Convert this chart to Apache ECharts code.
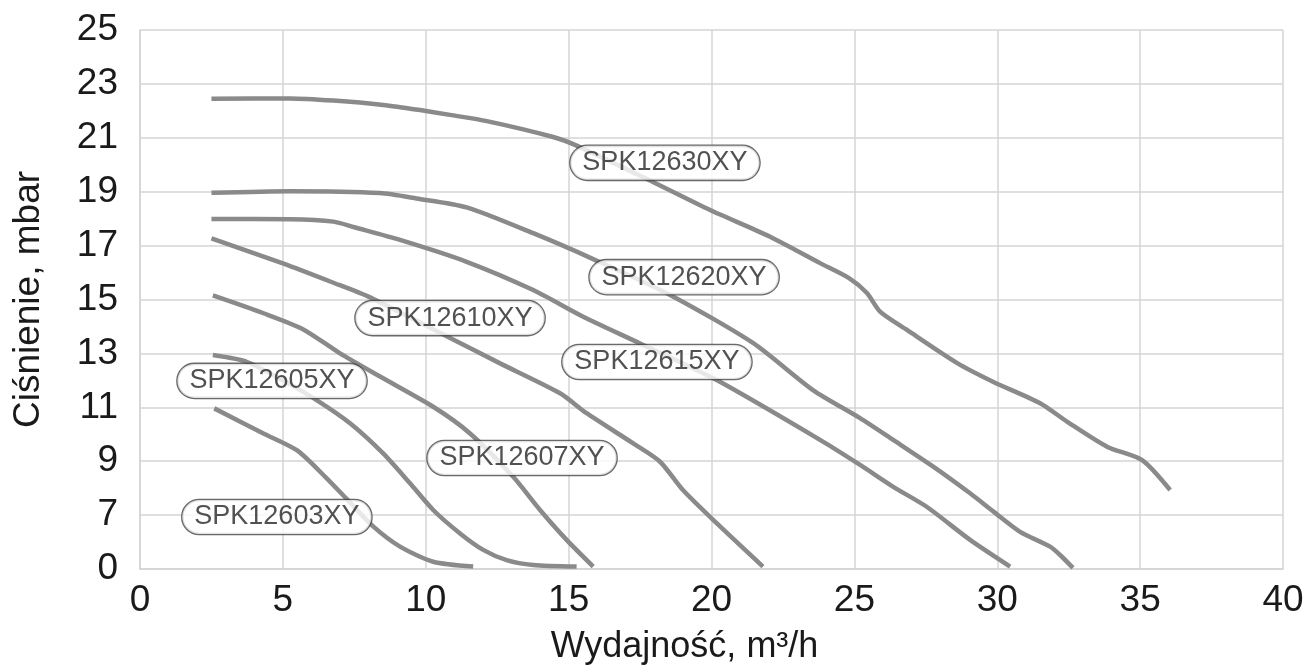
<!DOCTYPE html>
<html>
<head>
<meta charset="utf-8">
<script src="https://cdn.jsdelivr.net/npm/echarts@6/dist/echarts.min.js"></script>
<style>
html,body{margin:0;padding:0;background:#fff;}
#chart{width:1314px;height:666px;}
</style>
</head>
<body>
<div id="chart"></div>
<script>
// Y axis: plotted linearly from 5 to 25; the bottom tick (5) is labelled "0" as in the original
const xTicks = [0, 5, 10, 15, 20, 25, 30, 35, 40];
const yTickLabels = {5: '0', 7: '7', 9: '9', 11: '11', 13: '13', 15: '15', 17: '17', 19: '19', 21: '21', 23: '23', 25: '25'};

const spk12630 = [[2.5,22.45],[5.25,22.46],[6.77,22.38],[8.51,22.22],[9.8,22.03],[10.85,21.85],[12.14,21.62],[14.46,21.03],[15.3,20.7],[17.95,19.36],[19.95,18.32],[22.05,17.33],[23.8,16.35],[24.8,15.8],[25.44,15.24],[25.9,14.55],[26.84,13.87],[28.6,12.64],[29.85,11.95],[31.5,11.15],[32.44,10.47],[33.84,9.54],[35.07,9.04],[36.05,7.93]];
const spk12620 = [[2.5,18.96],[5.25,19.02],[8.4,18.95],[9.68,18.75],[11.43,18.42],[13.76,17.46],[15.86,16.5],[18.55,15.17],[21.45,13.39],[23.55,11.64],[25.2,10.6],[26.36,9.79],[27.76,8.8],[29.05,7.81],[29.87,7.13],[30.8,6.38],[31.85,5.83],[32.2,5.52],[32.65,5.04]];
const spk12615 = [[2.5,17.99],[5.25,17.98],[6.77,17.89],[7.5,17.68],[9.1,17.21],[11.43,16.4],[13.76,15.35],[15.51,14.36],[17.5,13.37],[20.18,12.01],[23.8,9.79],[25.2,8.86],[26.36,8.05],[27.53,7.31],[29.05,6.08],[30.45,5.09]];
const spk12610 = [[2.5,17.27],[5.0,16.34],[6.7,15.65],[8.05,15.08],[10.8,13.6],[12.6,12.63],[14.7,11.52],[15.63,10.78],[17.26,9.66],[18.2,8.98],[19.0,7.93],[20.18,6.7],[21.8,5.09]];
const spk12607 = [[2.55,15.15],[4.32,14.49],[5.7,13.9],[7.0,13.0],[8.4,12.14],[10.26,11.02],[11.55,10.03],[13.06,8.42],[14.0,7.19],[14.93,6.08],[15.86,5.09]];
const spk12605 = [[2.55,12.94],[3.73,12.69],[5.0,12.0],[6.18,11.27],[7.35,10.41],[8.51,9.29],[9.45,8.18],[10.26,7.19],[11.2,6.32],[12.01,5.71],[12.83,5.33],[13.76,5.15],[15.28,5.09]];
const spk12603 = [[2.6,10.96],[4.32,10.03],[5.5,9.4],[6.5,8.4],[7.23,7.6],[8.17,6.57],[9.1,5.83],[10.26,5.27],[11.66,5.09]];

const seriesNames = ['SPK12630XY','SPK12620XY','SPK12615XY','SPK12610XY','SPK12607XY','SPK12605XY','SPK12603XY'];
const seriesData = [spk12630, spk12620, spk12615, spk12610, spk12607, spk12605, spk12603];

// curve label positions (data coordinates)
const labelNames = ['SPK12630XY','SPK12620XY','SPK12610XY','SPK12615XY','SPK12605XY','SPK12607XY','SPK12603XY'];
const labelX = [18.37, 19.04, 10.85, 18.09, 4.62, 13.37, 4.79];
const labelY = [20.07, 15.83, 14.31, 12.68, 11.98, 9.12, 6.93];

const chart = echarts.init(document.getElementById('chart'), null, {renderer: 'canvas'});
const FONT = '"Liberation Sans", Arial, sans-serif';

const lineSeries = seriesNames.map((n, i) => ({
  name: n,
  type: 'line',
  data: seriesData[i],
  showSymbol: false,
  smooth: 0.25,
  lineStyle: {color: '#8a8a8a', width: 4.5, cap: 'butt'},
  z: 2,
  silent: true
}));

const labelSeries = {
  type: 'scatter',
  data: labelNames.map((n, i) => ({name: n, value: [labelX[i], labelY[i]]})),
  symbol: 'circle',
  symbolSize: 0,
  itemStyle: {color: 'rgba(0,0,0,0)'},
  z: 10,
  silent: true,
  label: {
    show: true,
    position: 'inside',
    formatter: p => p.name,
    fontFamily: FONT,
    fontSize: 27,
    color: '#262626',
    backgroundColor: '#fff',
    borderColor: '#444',
    borderWidth: 1.3,
    borderRadius: 18,
    padding: [4, 12, 3, 12]
  }
};

chart.setOption({
  animation: false,
  backgroundColor: '#fff',
  grid: {left: 140, right: 31, top: 30, bottom: 97, containLabel: false, outerBoundsMode: 'none'},
  xAxis: {
    type: 'value', min: 0, max: 40, interval: 5,
    name: 'Wydajność, m³/h',
    nameLocation: 'middle',
    nameGap: 60,
    nameTextStyle: {fontFamily: FONT, fontSize: 36, color: '#1a1a1a', padding: [0, 54, 0, 0]},
    axisLine: {show: true, lineStyle: {color: '#d4d4d4', width: 1.5}},
    axisTick: {show: false},
    axisLabel: {fontFamily: FONT, fontSize: 37, color: '#1a1a1a', margin: 13,
      formatter: v => xTicks.includes(v) ? String(v) : ''},
    splitLine: {show: true, lineStyle: {color: '#d4d4d4', width: 1.5}}
  },
  yAxis: {
    type: 'value', min: 5, max: 25, interval: 2,
    name: 'Ciśnienie, mbar',
    nameLocation: 'middle',
    nameGap: 93,
    nameRotate: 90,
    nameTextStyle: {fontFamily: FONT, fontSize: 37, color: '#1a1a1a'},
    axisLine: {show: true, lineStyle: {color: '#d4d4d4', width: 1.5}},
    axisTick: {show: false},
    axisLabel: {fontFamily: FONT, fontSize: 37, color: '#1a1a1a', margin: 22,
      formatter: v => yTickLabels[v] !== undefined ? yTickLabels[v] : ''},
    splitLine: {show: true, lineStyle: {color: '#d4d4d4', width: 1.5}}
  },
  series: [...lineSeries, labelSeries]
});
</script>
</body>
</html>
